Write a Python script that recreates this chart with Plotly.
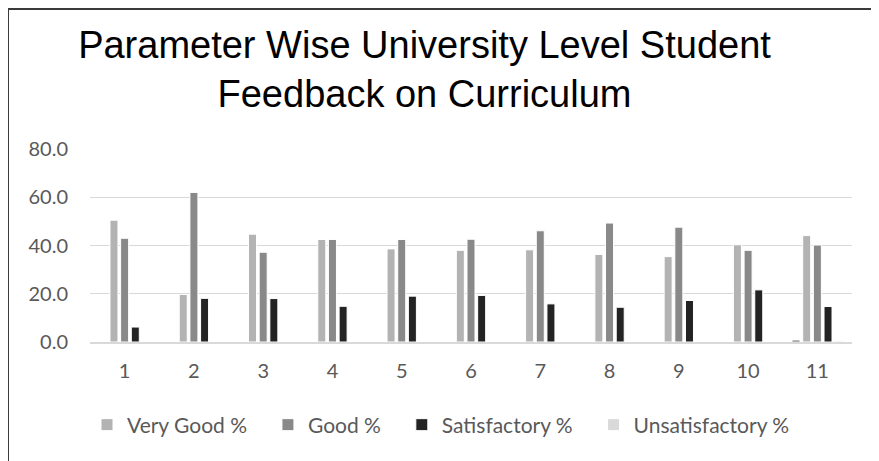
import plotly.graph_objects as go

categories = ["1", "2", "3", "4", "5", "6", "7", "8", "9", "10", "11"]
other_pct = [0, 0, 0, 0, 0, 0, 0, 0, 0, 0, 0.8]
very_good_pct = [50.5, 19.7, 44.7, 42.5, 38.6, 38.0, 38.2, 36.3, 35.4, 40.3, 44.1]
good_pct = [43.0, 62.0, 37.2, 42.5, 42.5, 42.6, 46.1, 49.3, 47.6, 38.0, 40.2]
satisfactory_pct = [6.2, 18.1, 18.0, 14.8, 19.0, 19.3, 15.8, 14.4, 17.2, 21.6, 14.7]
unsatisfactory_pct = [0, 0, 0, 0, 0, 0, 0, 0, 0, 0, 0.4]

PAD = "\u2002\u00a0"
series = [
    ("Other %", other_pct, "#595959", False),
    ("Very Good %", very_good_pct, "#b3b3b3", True),
    ("Good %", good_pct, "#898989", True),
    ("Satisfactory %", satisfactory_pct, "#232323", True),
    ("Unsatisfactory %", unsatisfactory_pct, "#d9d9d9", True),
]

fig = go.Figure()
for name, vals, color, show in series:
    fig.add_trace(go.Bar(
        x=categories, y=vals, name=name + PAD, showlegend=show,
        marker=dict(color=color, line=dict(color="white", width=1)),
    ))

# the page has an 8px body margin, so figure coords = page coords - 8
W, H = 871, 453
ml, mr, mt, mb = 82, 27, 141, 119
pw = W - ml - mr
ph = H - mt - mb

def px_x(p):
    return (p - ml) / pw

def px_y(p):
    return (H - mb - p) / ph

fig.update_layout(
    width=W, height=H,
    margin=dict(l=ml, r=mr, t=mt, b=mb),
    paper_bgcolor="white", plot_bgcolor="white",
    barmode="group", bargap=0.23, bargroupgap=0.25,
    title=dict(
        text="Parameter Wise University Level Student<br>Feedback on Curriculum",
        font=dict(family="Liberation Sans, Arial", size=38, color="black"),
        x=416.5 / W, xanchor="center", xref="container",
        y=1 - 50 / H, yanchor="top", yref="container",
    ),
    font=dict(family="Lato, Carlito, Calibri, sans-serif", color="#595959", size=20),
    legend=dict(
        orientation="h", x=441 / W, xanchor="center", xref="container",
        y=1 - 417 / H, yanchor="middle", yref="container",
        font=dict(size=21, color="#595959"),
        traceorder="normal",
    ),
    xaxis=dict(
        showgrid=False, showline=True, linecolor="#d9d9d9", linewidth=1.5,
        ticks="", ticklabelstandoff=10,
    ),
    yaxis=dict(
        range=[0, 80], dtick=20, tickformat=".1f",
        showgrid=True, gridcolor="#d9d9d9", gridwidth=1.3,
        zeroline=False, showline=False, ticks="", ticklabelstandoff=21,
    ),
    shapes=[
        dict(type="line", xref="paper", yref="paper",
             x0=px_x(0), x1=px_x(0), y0=px_y(470), y1=px_y(1),
             line=dict(color="#3a3a3a", width=2)),
        dict(type="line", xref="paper", yref="paper",
             x0=px_x(0), x1=px_x(890), y0=px_y(1), y1=px_y(1),
             line=dict(color="#3a3a3a", width=2)),
    ],
)

fig.write_html("out.html")
